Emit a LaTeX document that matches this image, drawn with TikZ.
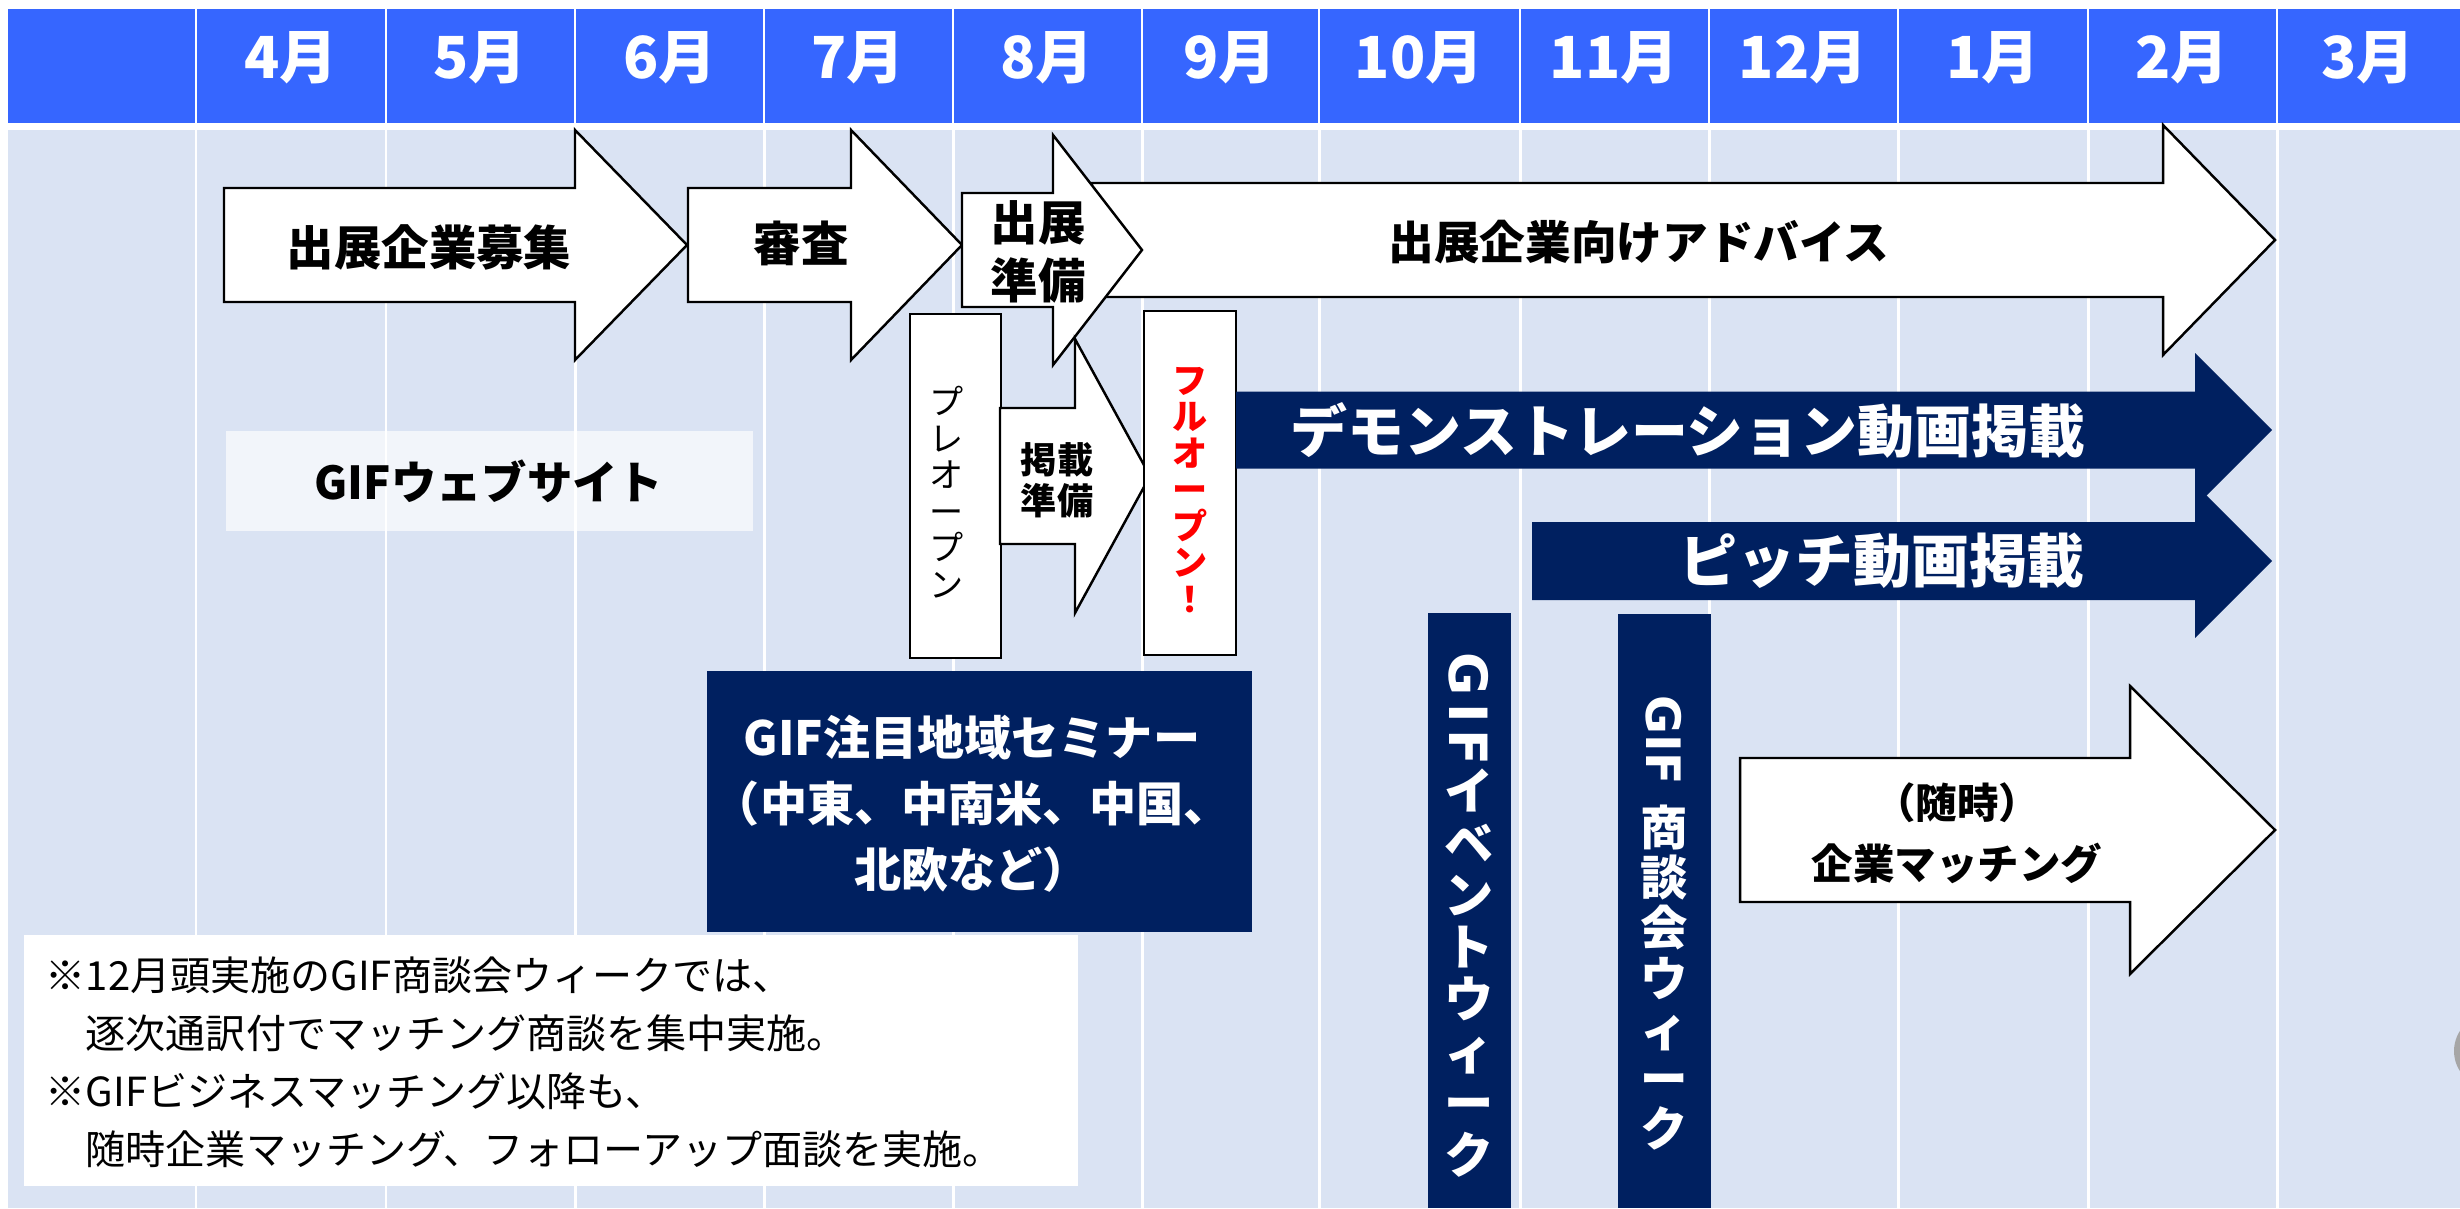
\documentclass[tikz,border=0pt]{standalone}
\usepackage{fontspec}
\setmainfont{Noto Sans CJK JP}
\newfontfamily\latinbold{DejaVu Sans}
\usepackage{graphicx}
\definecolor{hdrblue}{RGB}{54,102,255}
\definecolor{gridbg}{RGB}{218,227,243}
\definecolor{navy}{RGB}{0,32,96}
\newcommand{\fsz}[2]{\fontsize{#1}{#2}\selectfont}
% block arrow: [style] x-left, x-head base, x-tip, y-centre, half body, half head
\newcommand{\blockarr}[7][]{%
  \path[#1] (#2,#5-#6) -- (#3,#5-#6) -- (#3,#5-#7) -- (#4,#5) -- (#3,#5+#7)
    -- (#3,#5+#6) -- (#2,#5+#6) -- cycle;}

\begin{document}
\begin{tikzpicture}[x=0.1mm,y=-0.1mm,
  month/.style={text=white,font=\bfseries\fsz{16.5}{18}},
  wbox/.style={draw=black,line width=0.7pt,fill=white},
  nbox/.style={fill=navy},
  blk/.style={text=black,font=\bfseries\fsz{13.5}{16.6},align=center,inner sep=0pt},
  wht/.style={text=white,font=\bfseries\fsz{13.4}{18.8},align=center,inner sep=0pt}]
\useasboundingbox (0,0) rectangle (2460,1208);
\clip (0,0) rectangle (2460,1208);
\fill[white] (0,0) rectangle (2460,1208);
\fill[hdrblue] (8,9) rectangle (2460,123);
\fill[gridbg] (8,130) rectangle (2460,1208);
\foreach \x in {196,386,575,764,953,1142,1319,1520,1709,1898,2088,2277}
  {\draw[white,line width=0.5pt] (\x,9) -- (\x,123);
   \draw[white,line width=0.85pt] (\x,130) -- (\x,1208);}
% months
\node[month] (m4) at (291,58) {4月};
\node[month] (m5) at (480,58) {5月};
\node[month] (m6) at (670,58) {6月};
\node[month] (m7) at (858,58) {7月};
\node[month] (m8) at (1047,58) {8月};
\node[month] (m9) at (1230,58) {9月};
\node[month] (m10) at (1419,58) {10月};
\node[month] (m11) at (1614,58) {11月};
\node[month] (m12) at (1803,58) {12月};
\node[month] (m1) at (1993,58) {1月};
\node[month] (m2) at (2182,58) {2月};
\node[month] (m3) at (2368,58) {3月};
% web site
\fill[white,fill opacity=0.65] (226,431) rectangle (753,531);
\node[blk,font=\bfseries\fsz{12.9}{16}] (web) at (489,481) {GIFウェブサイト};
% top row
\blockarr[wbox]{224}{575}{687}{245}{57}{115}
\node[blk] (bosyu) at (429,247) {出展企業募集};
\blockarr[wbox]{688}{851}{962}{245}{57}{115}
\node[blk] (shinsa) at (801,243) {審査};
\blockarr[wbox]{1092}{2163}{2275}{240}{57}{115}
\node[blk,font=\bfseries\fsz{13}{16}] (advice) at (1639,242) {出展企業向けアドバイス};
\blockarr[wbox]{962}{1053}{1142}{250}{57}{115}
\node[blk] (junbi) at (1038,252) {出展\\準備};
% open
\draw[wbox] (910,314) rectangle (1001,658);
\node[blk,font=\fsz{9.7}{10.4}] (pre) at (947,492) {プ\\レ\\オ\\ー\\プ\\ン};
\blockarr[wbox]{1000}{1075}{1150}{476}{68}{137}
\node[blk,font=\bfseries\fsz{10.3}{11.7}] (keisai) at (1057,480) {掲載\\準備};
\draw[wbox] (1144,311) rectangle (1236,655);
\node[blk,text=red,font=\bfseries\fsz{10}{10.4}] (full) at (1190,490) {フ\\ル\\オ\\ー\\プ\\ン\\！};
% videos
\blockarr[nbox]{1236}{2195}{2272}{430}{38.5}{77}
\node[wht,font=\bfseries\fsz{16.2}{18}] (demo) at (1688,430) {デモンストレーション動画掲載};
\blockarr[nbox]{1532}{2195}{2272}{561}{39}{77}
\node[wht,font=\bfseries\fsz{16.5}{18}] (pitch) at (1882,561) {ピッチ動画掲載};
% seminar
\fill[navy] (707,671) rectangle (1252,932);
\node[wht] (sem) at (972,804) {GIF注目地域セミナー\\（中東、中南米、中国、\\北欧など）};
% weeks
\fill[navy] (1428,613) rectangle (1511,1208);
\node[wht,font=\bfseries\fsz{14}{14.8},anchor=north] (evt) at (1469,652)
  {\rotatebox{-90}{\latinbold\bfseries\fsz{15}{16}G\kern2pt I\kern2pt F}\\イ\\ベ\\ン\\ト\\ウ\\ィ\\ー\\ク};
\fill[navy] (1618,614) rectangle (1711,1208);
\node[wht,font=\bfseries\fsz{13.5}{14.3},anchor=north] (shodan) at (1664,695)
  {\rotatebox{-90}{\latinbold\bfseries GIF\ }\\商\\談\\会\\ウ\\ィ\\ー\\ク};
% matching
\blockarr[wbox]{1740}{2130}{2275}{830}{72}{144}
\node[blk,font=\bfseries\fsz{11.8}{17.4}] (zuiji) at (1957,833) {（随時）\\企業マッチング};
% note
\fill[white] (24,935) rectangle (1078,1186);
\node[anchor=west,align=left,inner sep=0pt,font=\fsz{11.4}{16.5}] (memo) at (45,1062)
  {※12月頭実施のGIF商談会ウィークでは、\\　逐次通訳付でマッチング商談を集中実施。\\※GIFビジネスマッチング以降も、\\　随時企業マッチング、フォローアップ面談を実施。};
\fill[black!35] (2491,1051) circle (37);
\end{tikzpicture}
\end{document}
